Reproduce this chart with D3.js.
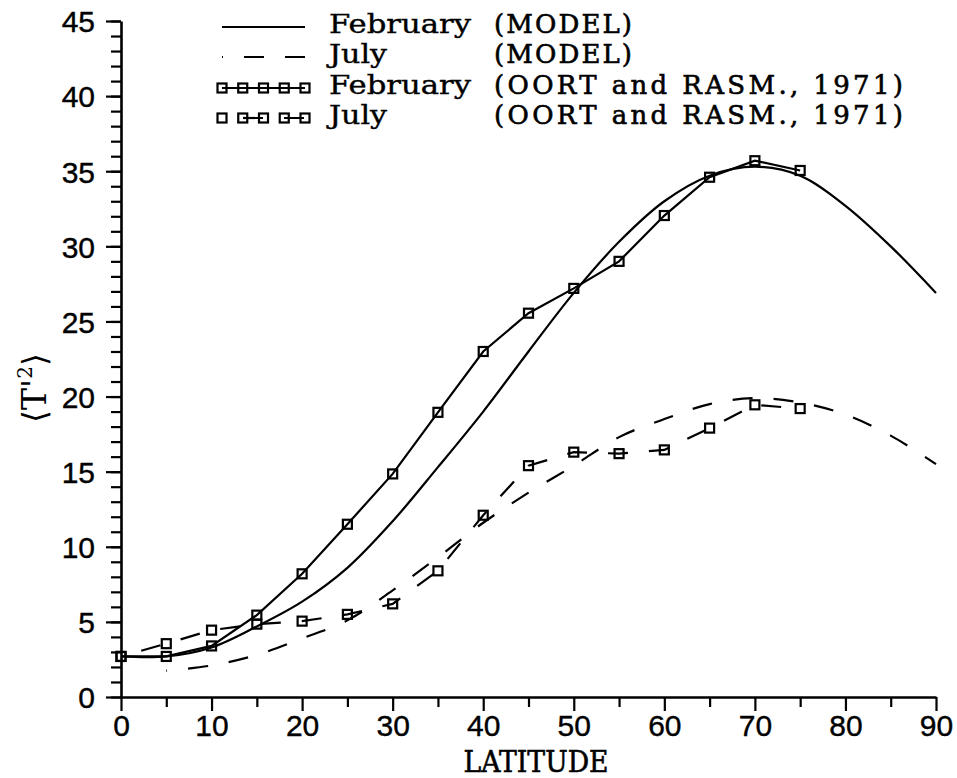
<!DOCTYPE html>
<html>
<head>
<meta charset="utf-8">
<script src="https://cdn.jsdelivr.net/npm/d3@7"></script>
<style>
  body { margin: 0; background: #fff; }
  svg { display: block; }
</style>
</head>
<body>
<div id="chart"></div>
<script>
// latitude grid (degrees) and <T'^2> values
var modelLat = [0, 5, 10, 15, 20, 25, 30, 35, 40, 45, 50, 55, 60, 65, 70, 75, 80, 85, 90]
var febModel = [2.7, 2.7, 3.3, 4.7, 6.35, 8.6, 11.7, 15.3, 19.0, 23.0, 26.9, 30.3, 33.0, 34.7, 35.3, 34.7, 32.7, 30.0, 26.9]
var julModelLat = [5, 10, 15, 20, 25, 30, 35, 40, 45, 50, 55, 60, 65, 70, 75, 80, 85, 90]
var julModel = [1.75, 2.1, 2.8, 3.9, 5.1, 7.1, 9.3, 11.6, 13.6, 15.4, 17.3, 18.5, 19.5, 19.9, 19.6, 18.8, 17.4, 15.5]
var oortLat = [0, 5, 10, 15, 20, 25, 30, 35, 40, 45, 50, 55, 60, 65, 70, 75]
var febOort = [2.7, 2.7, 3.4, 5.45, 8.2, 11.5, 14.85, 18.95, 23.0, 25.55, 27.2, 29.0, 32.05, 34.6, 35.7, 35.05]
var julOort = [2.7, 3.55, 4.45, 4.85, 5.05, 5.5, 6.2, 8.4, 12.1, 15.4, 16.3, 16.2, 16.45, 17.9, 19.45, 19.2]

var xMajor = [0, 10, 20, 30, 40, 50, 60, 70, 80, 90]
var xMinor = [5, 15, 25, 35, 45, 55, 65, 75, 85]
var yMajor = [0, 5, 10, 15, 20, 25, 30, 35, 40, 45]
var yMinor = d3.range(0, 46)

var legendLabels = ["February", "July", "February", "July"]
var legendSources = ["(MODEL)", "(MODEL)", "(OORT and RASM., 1971)", "(OORT and RASM., 1971)"]

var W = 957, H = 778
var svg = d3.select("#chart").append("svg").attr("width", W).attr("height", H)

var x = d3.scaleLinear().domain([0, 90]).range([121, 936])
var y = d3.scaleLinear().domain([0, 45]).range([697, 21])

var serif = "'DejaVu Serif', serif"
var sans = "'Liberation Sans', Arial, sans-serif"
var dash = "20,21"

function zip(xs, ys) { return xs.map((d, i) => [d, ys[i]]) }

// axes: minor ticks first, then major ticks with labels
svg.append("g").attr("transform", "translate(0,697)")
    .call(d3.axisBottom(x).tickValues(xMinor).tickSize(10).tickSizeOuter(0).tickFormat(""))
    .call(g => g.select(".domain").remove())
var xa = svg.append("g").attr("transform", "translate(0,697)")
    .call(d3.axisBottom(x).tickValues(xMajor).tickSize(14).tickPadding(4).tickSizeOuter(0))
xa.selectAll("text").style("font-family", sans).style("font-size", "30px").attr("fill", "#000")
    .attr("stroke", "#000").attr("stroke-width", 0.4)

svg.append("g").attr("transform", "translate(121,0)")
    .call(d3.axisLeft(y).tickValues(yMinor).tickSize(10).tickSizeOuter(0).tickFormat(""))
    .call(g => g.select(".domain").remove())
var ya = svg.append("g").attr("transform", "translate(121,0)")
    .call(d3.axisLeft(y).tickValues(yMajor).tickSize(15).tickPadding(11).tickSizeOuter(0))
ya.selectAll("text").style("font-family", sans).style("font-size", "30px").attr("fill", "#000")
    .attr("stroke", "#000").attr("stroke-width", 0.4)
    .attr("dy", "0.36em")

svg.selectAll(".domain").attr("stroke", "#000").attr("stroke-width", 2.6)
svg.selectAll(".tick line").attr("stroke", "#000").attr("stroke-width", 2.2)

// curves
var smooth = d3.line().x(d => x(d[0])).y(d => y(d[1])).curve(d3.curveCatmullRom)
var straight = d3.line().x(d => x(d[0])).y(d => y(d[1]))

var plot = svg.append("g").attr("fill", "none").attr("stroke", "#000").attr("stroke-width", 2.2)

plot.append("path").attr("d", smooth(zip(modelLat, febModel)))
plot.append("path").attr("d", smooth(zip(julModelLat, julModel)))
    .attr("stroke-dasharray", dash).attr("stroke-dashoffset", 19)
plot.append("path").attr("d", straight(zip(oortLat, febOort)))
plot.append("path").attr("d", straight(zip(oortLat, julOort)))
    .attr("stroke-dasharray", dash).attr("stroke-dashoffset", 20)

function squares(g, pts) {
    g.selectAll(null).data(pts).join("rect")
        .attr("x", d => d[0] - 4.5).attr("y", d => d[1] - 4.5)
        .attr("width", 9).attr("height", 9)
        .attr("fill", "none").attr("stroke", "#000").attr("stroke-width", 2.2)
}
squares(svg.append("g"), zip(oortLat, febOort).map(d => [x(d[0]), y(d[1])]))
squares(svg.append("g"), zip(oortLat, julOort).map(d => [x(d[0]), y(d[1])]))

// legend
var legX0 = 222, legX1 = 305
var rowY = [27, 57, 88, 118]
var legend = svg.append("g")
legend.append("line").attr("x1", legX0).attr("x2", legX1).attr("y1", rowY[0]).attr("y2", rowY[0])
    .attr("stroke", "#000").attr("stroke-width", 2.2)
legend.append("line").attr("x1", legX0).attr("x2", legX1).attr("y1", rowY[1]).attr("y2", rowY[1])
    .attr("stroke", "#000").attr("stroke-width", 2.2)
    .attr("stroke-dasharray", dash).attr("stroke-dashoffset", 19)
legend.append("line").attr("x1", legX0).attr("x2", legX1).attr("y1", rowY[2]).attr("y2", rowY[2])
    .attr("stroke", "#000").attr("stroke-width", 2.2)
legend.append("line").attr("x1", legX0).attr("x2", legX1).attr("y1", rowY[3]).attr("y2", rowY[3])
    .attr("stroke", "#000").attr("stroke-width", 2.2)
    .attr("stroke-dasharray", dash).attr("stroke-dashoffset", 20)
var legMarks = d3.range(5).map(i => legX0 + i * (legX1 - legX0) / 4)
squares(legend.append("g"), legMarks.map(v => [v, rowY[2]]))
squares(legend.append("g"), legMarks.map(v => [v, rowY[3]]))

legend.selectAll(".lab").data(legendLabels).join("text")
    .attr("x", 329).attr("y", (d, i) => rowY[i] + 6)
    .attr("textLength", d => d == "July" ? 58 : 142).attr("lengthAdjust", "spacingAndGlyphs")
    .attr("stroke", "#000").attr("stroke-width", 0.4)
    .style("font-family", serif).style("font-size", "26px").text(d => d)
legend.selectAll(".src").data(legendSources).join("text")
    .attr("x", 494).attr("y", (d, i) => rowY[i] + 6)
    .attr("textLength", d => d.length > 10 ? 409 : 138).attr("lengthAdjust", "spacing")
    .attr("stroke", "#000").attr("stroke-width", 0.6)
    .style("font-family", serif).style("font-size", "26px").text(d => d)

// axis titles
svg.append("text").attr("x", 536).attr("y", 772).attr("text-anchor", "middle")
    .attr("textLength", 145).attr("lengthAdjust", "spacingAndGlyphs")
    .attr("stroke", "#000").attr("stroke-width", 0.6)
    .style("font-family", serif).style("font-size", "29px").text("LATITUDE")

var yt = svg.append("text").attr("transform", "translate(46,388) rotate(-90)")
    .attr("text-anchor", "middle").style("font-family", serif).style("font-size", "33px")
yt.append("tspan").style("font-family", "'DejaVu Sans', sans-serif").style("font-weight", 200).text("\u27E8")
yt.append("tspan").text("T'")
yt.append("tspan").attr("dy", -14).style("font-size", "20px").text("2")
yt.append("tspan").attr("dy", 14).style("font-family", "'DejaVu Sans', sans-serif").style("font-weight", 200).text("\u27E9")
</script>
</body>
</html>
